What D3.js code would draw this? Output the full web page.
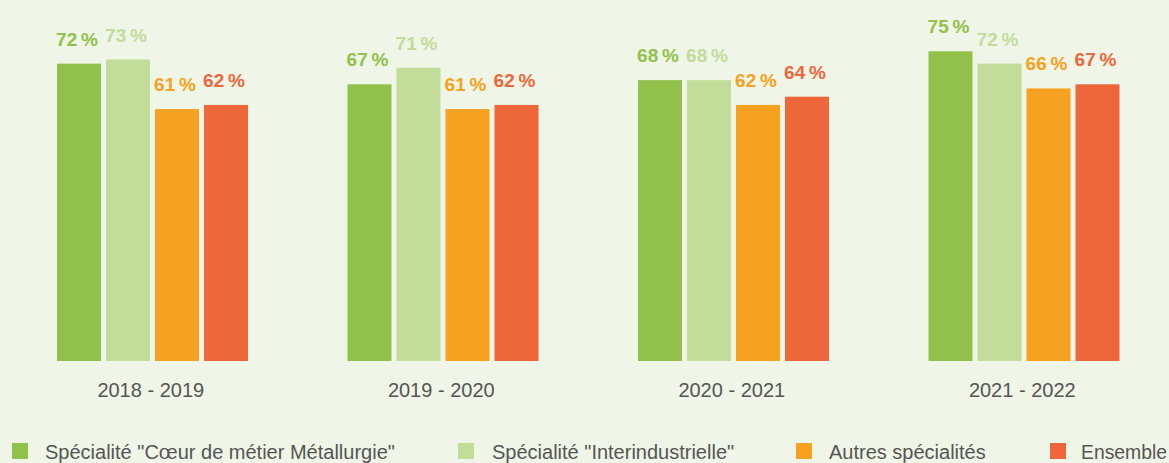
<!DOCTYPE html>
<html>
<head>
<meta charset="utf-8">
<script src="https://cdn.jsdelivr.net/npm/d3@7"></script>
<style>
  body { margin: 0; background: #eff5e7; }
  svg { display: block; font-family: "Liberation Sans", Arial, sans-serif; }
</style>
</head>
<body>
<svg id="chart" width="1169" height="463"></svg>
<script>
var years = ['2018 - 2019', '2019 - 2020', '2020 - 2021', '2021 - 2022'];
var series = ['Spécialité "Cœur de métier Métallurgie"', 'Spécialité "Interindustrielle"', 'Autres spécialités', 'Ensemble'];
var coeur = [72, 67, 68, 75];
var inter = [73, 71, 68, 72];
var autres = [61, 61, 62, 66];
var ensemble = [62, 62, 64, 67];
var colors = ['#91c14a', '#c2dc9a', '#f6a220', '#ed673a'];

var values = [coeur, inter, autres, ensemble];
var rows = [];
years.forEach(function(y, i) {
  series.forEach(function(s, j) {
    rows.push({ year: y, key: s, idx: j, value: values[j][i] });
  });
});

var svg = d3.select('#chart'),
  width = +svg.attr('width'),
  height = +svg.attr('height');

var x0 = d3.scaleBand().domain(years).range([7, 1169]).padding(0);
// inner band, offset from the start of each group
var x1 = d3.scaleBand().domain(series).range([50, 241]).paddingInner(0.102).paddingOuter(0);
var y = d3.scaleLinear().domain([0, 100]).range([361, -52]);

var g = svg.append('g');

g.selectAll('rect.bar')
  .data(rows)
  .enter()
  .append('rect')
  .attr('class', 'bar')
  .attr('x', function(d) { return x0(d.year) + x1(d.key); })
  .attr('y', function(d) { return y(d.value); })
  .attr('width', x1.bandwidth())
  .attr('height', function(d) { return y(0) - y(d.value); })
  .attr('fill', function(d) { return colors[d.idx]; });

g.selectAll('text.val')
  .data(rows)
  .enter()
  .append('text')
  .attr('class', 'val')
  .attr('x', function(d) { return x0(d.year) + x1(d.key) + x1.bandwidth() / 2 - 2; })
  .attr('y', function(d) { return y(d.value) - 18; })
  .attr('text-anchor', 'middle')
  .attr('font-size', 19)
  .attr('font-weight', 'bold')
  .attr('fill', function(d) { return colors[d.idx]; })
  .text(function(d) { return d.value + '\u2009%'; });

var xAxis = svg.append('g')
  .attr('transform', 'translate(0,361)')
  .call(d3.axisBottom(x0).tickSize(0).tickPadding(0));
xAxis.select('.domain').remove();
xAxis.selectAll('text')
  .attr('y', 36)
  .attr('dy', null)
  .attr('dx', '-1.5')
  .attr('font-size', 20)
  .attr('font-family', '"Liberation Sans", Arial, sans-serif')
  .attr('fill', '#555');

var legendX = [12, 458, 796, 1050];
var legendTextX = [33, 34, 33, 31];
var legend = svg.append('g')
  .selectAll('g')
  .data(series)
  .enter()
  .append('g')
  .attr('transform', function(d, i) { return 'translate(' + legendX[i] + ',443)'; });

legend.append('rect')
  .attr('width', 16)
  .attr('height', 16)
  .attr('fill', function(d, i) { return colors[i]; });

legend.append('text')
  .attr('x', function(d, i) { return legendTextX[i]; })
  .attr('y', 16)
  .attr('font-size', 20)
  .attr('fill', '#555')
  .text(function(d) { return d; });

// last legend label squeezed to stay inside the frame
legend.filter(function(d, i) { return i === 3; })
  .select('text')
  .attr('textLength', 86)
  .attr('lengthAdjust', 'spacingAndGlyphs');
</script>
</body>
</html>
